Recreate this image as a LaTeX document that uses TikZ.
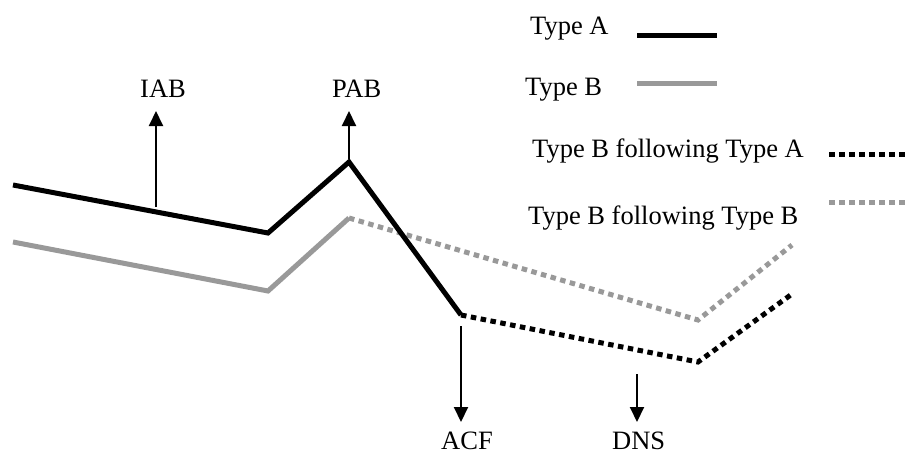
\documentclass[tikz,border=0pt]{standalone}
\usepackage{fontspec}
\setmainfont{Liberation Serif}
\usetikzlibrary{arrows.meta,positioning}
\definecolor{lightgrey}{gray}{.6}

\begin{document}
\begin{tikzpicture}[x=1pt,y=-1pt,% one unit is one pixel of the layout, y runs down
			every node/.style={
				font=\fontsize{26.5}{30}\selectfont,
				inner sep=0pt,
				anchor=base west	% labels sit on their baseline
			},
			typeA/.style={draw=black,line width=5pt},
			typeB/.style={draw=lightgrey,line width=5pt},
			afterA/.style={typeA,dash pattern=on 5.5pt off 4.5pt},
			afterB/.style={typeB,dash pattern=on 5.5pt off 4.5pt},
			marker/.style={draw,line width=2pt,-{Triangle[length=15pt,width=14pt]}}
		]
		\useasboundingbox (0,0) rectangle (908,453);
		% corners of the two traces
		\coordinate (a0) at (13,185);
		\coordinate (a1) at (268,233);
		\coordinate (apeak) at (349,162);
		\coordinate (acorner) at (461,315);
		\coordinate (a4) at (698,362);
		\coordinate (a5) at (792,294);
		\coordinate (b0) at (13,242);
		\coordinate (b1) at (268,291);
		\coordinate (bpeak) at (349,218);
		\coordinate (b3) at (698,320);
		\coordinate (b4) at (792,245);
		% labels
		\node (IAB) at (140,97) {IAB};
		\node (PAB) at (332,97) {PAB};
		\node (ACF) at (441,449) {ACF};
		\node (DNS) at (612,449) {DNS};
		% legend
		\node (LA) at (530,34) {Type A};
		\node (LB) at (525,95) {Type B};
		\node (LBA) at (532,157) {Type B following Type A};
		\node (LBB) at (528,224) {Type B following Type B};
		\coordinate (kA1) at (637,35);  \coordinate (kA2) at (717,35);
		\coordinate (kB1) at (637,83);  \coordinate (kB2) at (717,83);
		\coordinate (kBA1) at (829,154); \coordinate (kBA2) at (908,154);
		\coordinate (kBB1) at (829,202); \coordinate (kBB2) at (908,202);
		\draw[typeA] (kA1) -- (kA2);
		\draw[typeB] (kB1) -- (kB2);
		\draw[afterA] (kBA1) -- (kBA2);
		\draw[afterB] (kBB1) -- (kBB2);
		% traces
		\draw[typeB] (b0) -- (b1) -- (bpeak);
		\draw[afterB] (bpeak) -- (b3) -- (b4);
		\draw[afterA] (acorner) -- (a4) -- (a5);
		\draw[typeA] (a0) -- (a1) -- (apeak) -- (acorner);
		% arrows
		\coordinate (iabfoot) at (156,207); \coordinate (iabtip) at (156,111);
		\coordinate (pabfoot) at (349,159); \coordinate (pabtip) at (349,111);
		\coordinate (acffoot) at (461,326); \coordinate (acftip) at (461,422);
		\coordinate (dnsfoot) at (637,374); \coordinate (dnstip) at (637,422);
		\path
		(iabfoot) edge [marker] (iabtip)
		(pabfoot) edge [marker] (pabtip)
		(acffoot) edge [marker] (acftip)
		(dnsfoot) edge [marker] (dnstip)
		;
	\end{tikzpicture}
\end{document}
